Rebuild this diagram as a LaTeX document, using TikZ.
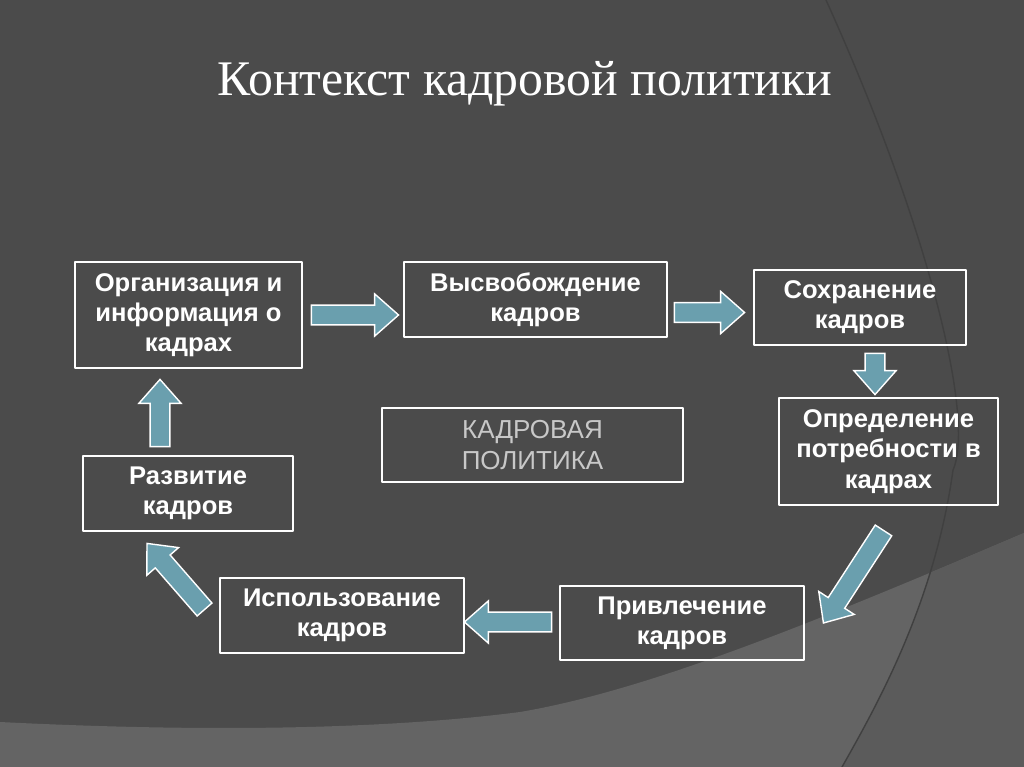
\documentclass[tikz,border=0pt]{standalone}
\usepackage{fontspec}
\setmainfont{Liberation Serif}
\newfontfamily\boxfont{Liberation Sans}
\usetikzlibrary{calc}
\definecolor{slide}{HTML}{4B4B4B}
\definecolor{slidelight}{HTML}{646464}
\definecolor{slidemid}{HTML}{5B5B5B}
\definecolor{arcshade}{HTML}{404040}
\definecolor{arrowblue}{HTML}{6A9FAE}
\definecolor{policygray}{HTML}{C8C8C8}
\tikzset{
  kbox/.style={draw=white,line width=2pt,text=white,align=center,inner sep=0pt,
    font=\boxfont\bfseries\fontsize{18.2}{21.5}\selectfont},
  blockarr/.style={draw=white,fill=arrowblue,line width=1pt,line join=miter}
}
% block arrow from #1 to #2
\newcommand{\blockarrow}[2]{%
  \coordinate (ba-s) at #1;
  \coordinate (ba-e) at #2;
  \coordinate (ba-h) at ($(ba-e)!17pt!(ba-s)$);
  \draw[blockarr] ($(ba-s)!7pt!90:(ba-e)$) -- ($(ba-h)!7pt!-90:(ba-s)$) -- ($(ba-h)!15pt!-90:(ba-s)$)
    -- (ba-e) -- ($(ba-h)!15pt!90:(ba-s)$) -- ($(ba-h)!7pt!90:(ba-s)$) -- ($(ba-s)!7pt!-90:(ba-e)$) -- cycle;
}

\begin{document}
\begin{tikzpicture}[line cap=round,line join=round,x=0.025cm,y=-0.025cm]
\useasboundingbox (0,0) rectangle (1024,767);
% background
\fill[slide] (0,0) rectangle (1024,767);
\fill[slidelight] (0,722) .. controls (200,732) and (380,730) .. (520,712)
  .. controls (650,690) and (820,620) .. (1024,533) -- (1024,767) -- (0,767) -- cycle;
\begin{scope}
\clip (0,722) .. controls (200,732) and (380,730) .. (520,712)
  .. controls (650,690) and (820,620) .. (1024,533) -- (1024,767) -- (0,767) -- cycle;
\fill[slidemid] (826,0) .. controls (930,230) and (975,420) .. (953,470)
  .. controls (935,600) and (880,700) .. (842,767) -- (1024,767) -- (1024,0) -- cycle;
\end{scope}
\draw[arcshade,line width=1pt] (826,0) .. controls (930,230) and (975,420) .. (953,470)
  .. controls (935,600) and (880,700) .. (842,767);

% title
\node[text=white,font=\fontsize{35.4}{36}\selectfont] (title) at (525,84) {Контекст кадровой политики};

% boxes
\node[kbox,minimum width=5.675cm,minimum height=2.65cm] (org) at (188.5,315) {Организация и\\информация о\\кадрах};
\node[kbox,minimum width=6.575cm,minimum height=1.875cm] (free) at (535.5,299.5) {Высвобождение\\кадров};
\node[kbox,minimum width=5.3cm,minimum height=1.875cm] (keep) at (860,307.5) {Сохранение\\кадров};
\node[kbox,minimum width=5.475cm,minimum height=2.675cm] (need) at (888.5,451.5) {Определение\\потребности в\\кадрах};
\node[kbox,minimum width=6.1cm,minimum height=1.85cm] (hire) at (682,623) {Привлечение\\кадров};
\node[kbox,minimum width=6.1cm,minimum height=1.875cm] (use) at (342,615.5) {Использование\\кадров};
\node[kbox,minimum width=5.25cm,minimum height=1.875cm] (dev) at (188,493.5) {Развитие\\кадров};
\node[kbox,minimum width=7.525cm,minimum height=1.85cm,text=policygray,
  font=\boxfont\fontsize{18.5}{22}\selectfont] (policy) at (532.5,445) {КАДРОВАЯ\\ПОЛИТИКА};

% arrows
\blockarrow{($(org.east)+(8,0)$)}{($(free.west|-org.east)+(-4,0)$)}
\blockarrow{($(free.east|-keep.west)+(6,5)$)}{($(keep.west)+(-8,5)$)}
\blockarrow{($(keep.south)+(15,7)$)}{($(need.north)+(-13.5,-2)$)}
\blockarrow{($(need.south)+(-5,24)$)}{($(hire.east)+(18,0)$)}
\blockarrow{($(hire.west)+(-7,-1)$)}{($(use.east)+(-1,6.5)$)}
\blockarrow{($(use.west)+(-14,-6)$)}{($(dev.south)+(-41,11)$)}
\blockarrow{($(dev.north)+(-28,-8)$)}{($(org.south)+(-28.5,10)$)}
\end{tikzpicture}
\end{document}
